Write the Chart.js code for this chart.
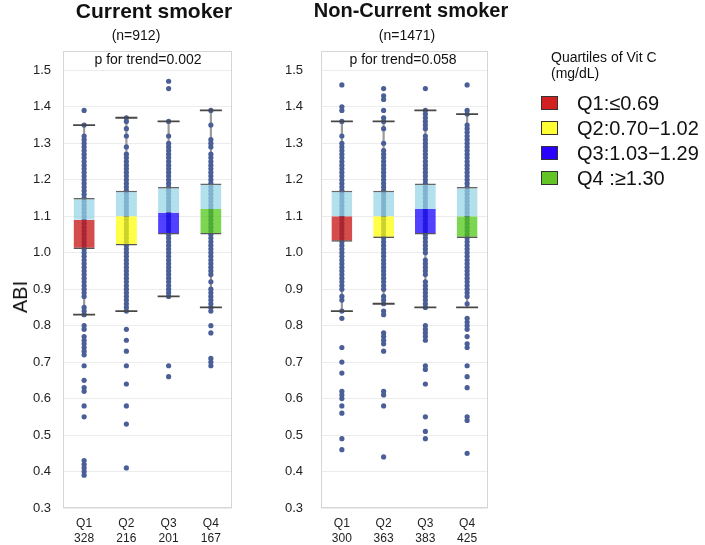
<!DOCTYPE html>
<html>
<head>
<meta charset="utf-8">
<script src="https://cdn.jsdelivr.net/npm/chart.js@4.4.1/dist/chart.umd.min.js"></script>
<style>
  body { margin: 0; background: #fff; font-family: 'Liberation Sans', Arial, sans-serif; color: #111; }
  #wrap { position: relative; width: 705px; height: 545px; overflow: hidden; }
  canvas { position: absolute; top: 0; }
  .txt { position: absolute; white-space: nowrap; }
  .title { font-weight: bold; font-size: 21px; line-height: 21px; transform: translateX(-50%); }
  .sub { font-size: 14px; line-height: 14px; transform: translateX(-50%); }
  .leg { font-size: 14px; line-height: 16px; }
  .item { font-size: 20px; line-height: 20px; }
  .sw { position: absolute; width: 15px; height: 12px; border: 1px solid #333; }
</style>
</head>
<body>
<div id="wrap">
  <canvas id="current" width="240" height="545" style="left:0"></canvas>
  <canvas id="nonCurrent" width="228" height="545" style="left:270px"></canvas>

  <div class="txt title" style="left:154px; top:0">Current smoker</div>
  <div class="txt title" style="left:411px; top:0; font-size:20px">Non-Current smoker</div>
  <div class="txt sub" style="left:136px; top:28px">(n=912)</div>
  <div class="txt sub" style="left:407px; top:28px">(n=1471)</div>
  <div class="txt sub" style="left:148px; top:52px">p for trend=0.002</div>
  <div class="txt sub" style="left:403px; top:52px">p for trend=0.058</div>

  <div class="txt" style="left:20px; top:297px; font-size:20px; line-height:20px; transform:translate(-50%,-50%) rotate(-90deg)">ABI</div>

  <div class="txt leg" style="left:551px; top:49px">Quartiles of Vit C</div>
  <div class="txt leg" style="left:551px; top:65px">(mg/dL)</div>
  <div id="legend"></div>
</div>
<script>
Chart.defaults.font.family = "'Liberation Sans', Arial, sans-serif";

const categories = ['Q1', 'Q2', 'Q3', 'Q4'];
const yTicks = [0.3, 0.4, 0.5, 0.6, 0.7, 0.8, 0.9, 1.0, 1.1, 1.2, 1.3, 1.4, 1.5];
const legendLabels = ['Q1:\u22640.69', 'Q2:0.70\u22121.02', 'Q3:1.03\u22121.29', 'Q4 :\u22651.30'];
const legendColors = ['#d21f1f', '#ffff33', '#2a00ff', '#62c425'];
const boxColors = ['rgba(200,20,20,0.76)', 'rgba(255,255,0,0.72)', 'rgba(20,0,255,0.74)', 'rgba(80,200,20,0.74)'];

// current smokers
const currentN = [328, 216, 201, 167];
const currentLowCap = [0.83, 0.84, 0.88, 0.85];
const currentQ1 = [1.01, 1.02, 1.05, 1.05];
const currentMedian = [1.09, 1.10, 1.11, 1.12];
const currentQ3 = [1.15, 1.17, 1.18, 1.19];
const currentUpCap = [1.35, 1.37, 1.36, 1.39];
// ABI x 100, one dot per distinct value
const currentAbi = [
  [139, 135, 132, 131, 130, 129, 128, 127, 126, 125, 124, 123, 122, 121, 120, 119, 118, 117, 116, 115, 114, 113, 112, 111, 110, 109, 108, 107, 106, 105, 104, 103, 102, 101, 100, 99, 98, 97, 96, 95, 94, 93, 92, 91, 90, 89, 88, 85, 84, 83, 80, 79, 77, 76, 75, 74, 73, 72, 69, 65, 63, 62, 58, 55, 43, 42, 41, 40, 39],
  [137, 136, 134, 132, 129, 127, 126, 125, 124, 123, 122, 121, 120, 119, 118, 117, 116, 115, 114, 113, 112, 111, 110, 109, 108, 107, 106, 105, 104, 103, 102, 101, 100, 99, 98, 97, 96, 95, 94, 93, 92, 91, 90, 89, 88, 87, 86, 85, 84, 79, 76, 73, 69, 64, 58, 53, 41],
  [147, 145, 136, 132, 130, 129, 128, 127, 126, 125, 124, 123, 122, 121, 120, 119, 118, 117, 116, 115, 114, 113, 112, 111, 110, 109, 108, 107, 106, 105, 104, 103, 102, 101, 100, 99, 98, 97, 96, 95, 94, 93, 92, 91, 90, 89, 88, 69, 66],
  [139, 135, 131, 130, 129, 127, 126, 125, 124, 123, 122, 121, 120, 119, 118, 117, 116, 115, 114, 113, 112, 111, 110, 109, 108, 107, 106, 105, 104, 103, 102, 101, 100, 99, 98, 97, 96, 95, 94, 92, 90, 89, 88, 87, 86, 85, 84, 80, 78, 71, 70, 69]
];

// non-current smokers
const nonCurrentN = [300, 363, 383, 425];
const nonCurrentLowCap = [0.84, 0.86, 0.85, 0.85];
const nonCurrentQ1 = [1.03, 1.04, 1.05, 1.04];
const nonCurrentMedian = [1.10, 1.10, 1.12, 1.10];
const nonCurrentQ3 = [1.17, 1.17, 1.19, 1.18];
const nonCurrentUpCap = [1.36, 1.36, 1.39, 1.38];
const nonCurrentAbi = [
  [146, 140, 139, 136, 132, 130, 129, 128, 127, 126, 125, 124, 123, 122, 121, 120, 119, 118, 117, 116, 115, 114, 113, 112, 111, 110, 109, 108, 107, 106, 105, 104, 103, 102, 101, 100, 99, 98, 97, 96, 95, 94, 93, 92, 91, 90, 88, 87, 84, 82, 74, 70, 67, 62, 61, 60, 58, 56, 49, 46],
  [145, 143, 142, 139, 137, 136, 134, 130, 128, 127, 126, 125, 124, 123, 122, 121, 120, 119, 118, 117, 116, 115, 114, 113, 112, 111, 110, 109, 108, 107, 106, 105, 104, 103, 102, 101, 100, 99, 98, 97, 96, 95, 94, 93, 92, 91, 90, 88, 87, 86, 84, 83, 78, 77, 76, 75, 73, 62, 61, 58, 44],
  [145, 139, 138, 137, 136, 135, 134, 132, 131, 130, 129, 128, 127, 126, 125, 124, 123, 122, 121, 120, 119, 118, 117, 116, 115, 114, 113, 112, 111, 110, 109, 108, 107, 106, 105, 104, 103, 102, 101, 100, 98, 97, 96, 95, 94, 92, 91, 90, 89, 88, 87, 86, 85, 80, 79, 78, 77, 76, 69, 68, 64, 55, 51, 49],
  [146, 139, 138, 135, 134, 133, 132, 131, 130, 129, 128, 127, 126, 125, 124, 123, 122, 121, 120, 119, 118, 117, 116, 115, 114, 113, 112, 111, 110, 109, 108, 107, 106, 105, 104, 103, 102, 101, 100, 99, 98, 97, 96, 95, 94, 93, 92, 91, 90, 89, 88, 86, 82, 81, 80, 79, 77, 75, 74, 69, 66, 63, 55, 54, 45]
];

// legend
const legendEl = document.getElementById('legend');
legendLabels.forEach((label, i) => {
  const cy = 103 + i * 25;
  legendEl.insertAdjacentHTML('beforeend',
    `<div class="sw" style="left:541px; top:${cy - 7}px; background:${legendColors[i]}"></div>` +
    `<div class="txt item" style="left:577px; top:${cy - 10}px">${label}</div>`);
});

const frame = {
  id: 'frame',
  beforeDatasetsDraw(chart) {
    const { ctx, chartArea: a } = chart;
    ctx.save();
    ctx.strokeStyle = '#d6d6d6';
    ctx.lineWidth = 1;
    ctx.strokeRect(a.left + 0.5, a.top + 0.5, a.width - 1, a.height - 1);
    ctx.restore();
  }
};

function boxPlot(id, n, lowCap, q1, median, q3, upCap, abi, axisWidth, labelPad, rightPad) {
  const dots = [];
  abi.forEach((vals, i) => vals.forEach(v => dots.push({ x: categories[i], y: v / 100 })));
  const caps = [];
  categories.forEach((c, i) => caps.push({ x: c, y: lowCap[i] }, { x: c, y: upCap[i] }));

  return new Chart(document.getElementById(id), {
    type: 'bar',
    data: {
      labels: categories,
      datasets: [
        {
          type: 'scatter', data: caps, order: 0,
          pointStyle: 'line', pointRadius: 11, pointBorderColor: '#474747', pointBorderWidth: 1.8
        },
        {
          data: categories.map((c, i) => [median[i], q3[i]]), order: 1,
          backgroundColor: 'rgba(150,212,230,0.72)', borderColor: '#666',
          borderWidth: { top: 1.5, right: 0, bottom: 0, left: 0 }, borderSkipped: false,
          grouped: false, barPercentage: 0.5, categoryPercentage: 1
        },
        {
          data: categories.map((c, i) => [q1[i], median[i]]), order: 1,
          backgroundColor: boxColors, borderColor: '#555',
          borderWidth: { top: 0, right: 0, bottom: 1.5, left: 0 }, borderSkipped: false,
          grouped: false, barPercentage: 0.5, categoryPercentage: 1
        },
        {
          type: 'scatter', data: dots, order: 2,
          pointRadius: 2.6, pointBackgroundColor: '#4a5f98', pointBorderWidth: 0
        },
        {
          data: categories.map((c, i) => [lowCap[i], upCap[i]]), order: 3,
          backgroundColor: '#999', barThickness: 1.5, grouped: false
        }
      ]
    },
    options: {
      responsive: false,
      animation: false,
      layout: { autoPadding: false, padding: { top: 51, right: rightPad, left: 0, bottom: 0 } },
      plugins: { legend: { display: false }, tooltip: { enabled: false } },
      scales: {
        x: {
          offset: true,
          grid: { display: false, drawTicks: false },
          border: { display: false },
          ticks: {
            padding: 8, color: '#222', maxRotation: 0, autoSkip: false,
            font: { size: 12, lineHeight: 1.25 },
            callback: (v, i) => [categories[i], String(n[i])]
          },
          afterFit: s => { s.height = 37; s.paddingLeft = 0; s.paddingRight = 0; }
        },
        y: {
          min: 0.3, max: 1.553,
          afterBuildTicks: s => { s.ticks = yTicks.map(v => ({ value: v })); },
          grid: { color: '#ececec', drawTicks: false },
          border: { display: false },
          ticks: { padding: labelPad, color: '#222', font: { size: 13 }, callback: v => v.toFixed(1) },
          afterFit: s => { s.width = axisWidth; s.paddingTop = 0; s.paddingBottom = 0; }
        }
      }
    },
    plugins: [frame]
  });
}

boxPlot('current', currentN, currentLowCap, currentQ1, currentMedian, currentQ3, currentUpCap, currentAbi, 63, 12, 8);
boxPlot('nonCurrent', nonCurrentN, nonCurrentLowCap, nonCurrentQ1, nonCurrentMedian, nonCurrentQ3, nonCurrentUpCap, nonCurrentAbi, 51, 18, 10);
</script>
</body>
</html>
